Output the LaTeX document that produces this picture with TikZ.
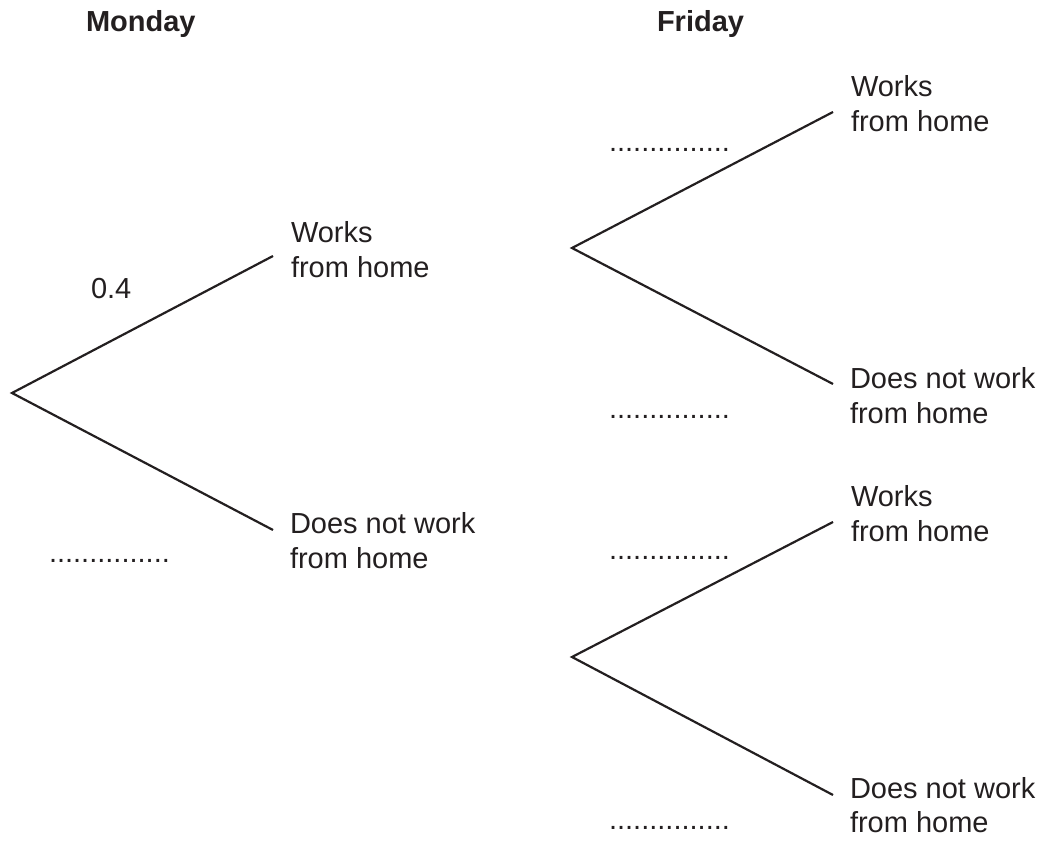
\documentclass[tikz,border=0pt]{standalone}
\usepackage{fontspec}
\setmainfont{Liberation Sans}
\definecolor{ink}{HTML}{231F20}
\begin{document}
\begin{tikzpicture}[x=1pt,y=1pt,
  lbl/.style={inner sep=0pt,outer sep=0pt,anchor=base west,align=left,text=ink,font=\fontsize{29}{34.5}\selectfont},
  head/.style={lbl,font=\fontsize{29}{34.5}\selectfont\bfseries},
  branch/.style={draw=ink,line width=2.2pt}]
\useasboundingbox (0,0) rectangle (1047,841);
% headings
\node[head] (mon) at (86,809) {Monday};
\node[head] (fri) at (657,809) {Friday};
% Monday branches
\coordinate (A) at (12,448);
\coordinate (A1) at (273,585);
\coordinate (A2) at (273,311);
\draw[branch] (A1) -- (A) -- (A2);
\node[lbl] (aw) at (291,563.5) {Works\\from home};
\node[lbl] (an) at (290,272.5) {Does not work\\from home};
\node[lbl] (p1) at (91,542) {0.4};
\node[lbl] (p2) at (49,278) {...............};
% Friday upper
\coordinate (B) at (572,593);
\coordinate (B1) at (833,729);
\coordinate (B2) at (833,457);
\draw[branch] (B1) -- (B) -- (B2);
\node[lbl] (bw) at (851,709.5) {Works\\from home};
\node[lbl] (bn) at (850,417.5) {Does not work\\from home};
\node[lbl] (q1) at (609,689.5) {...............};
\node[lbl] (q2) at (609,422.5) {...............};
% Friday lower
\coordinate (C) at (572,184);
\coordinate (C1) at (833,319);
\coordinate (C2) at (833,46);
\draw[branch] (C1) -- (C) -- (C2);
\node[lbl] (cw) at (851,299.5) {Works\\from home};
\node[lbl] (cn) at (850,8.5) {Does not work\\from home};
\node[lbl] (r1) at (609,281.5) {...............};
\node[lbl] (r2) at (609,11.5) {...............};
\end{tikzpicture}
\end{document}
